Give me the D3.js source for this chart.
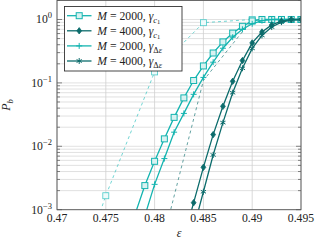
<!DOCTYPE html>
<html>
<head>
<meta charset="utf-8">
<script src="https://cdn.jsdelivr.net/npm/d3@7"></script>
<style>
  body { margin: 0; background: #fff; }
</style>
</head>
<body>
<div id="chart"></div>
<script>
// M = 2000, gamma_c1
var epsA = [0.478, 0.479, 0.480, 0.481, 0.482, 0.483, 0.484, 0.485, 0.486, 0.487, 0.488, 0.489, 0.490, 0.491, 0.492, 0.493, 0.494, 0.495];
var pbA  = [8.5e-4, 2.4e-3, 5.8e-3, 1.31e-2, 2.86e-2, 5.8e-2, 0.109, 0.185, 0.296, 0.443, 0.61, 0.78, 0.95, 1, 1, 1, 1, 1];
// M = 4000, gamma_c1
var epsB = [0.483, 0.484, 0.485, 0.486, 0.487, 0.488, 0.489, 0.490, 0.491, 0.492, 0.493, 0.494, 0.495];
var pbB  = [3.6e-4, 1.29e-3, 4.66e-3, 1.53e-2, 4.27e-2, 0.106, 0.225, 0.427, 0.635, 0.82, 0.94, 1, 1];
// M = 2000, gamma_delta_eps
var epsC = [0.479, 0.480, 0.481, 0.482, 0.483, 0.484, 0.485, 0.486, 0.487, 0.488, 0.489, 0.490, 0.491, 0.492, 0.493, 0.494, 0.495];
var pbC  = [8e-4, 2.51e-3, 6.4e-3, 1.67e-2, 3.3e-2, 6.6e-2, 0.122, 0.212, 0.352, 0.525, 0.70, 0.855, 0.96, 1, 1, 1, 1];
// M = 4000, gamma_delta_eps
var epsD = [0.484, 0.485, 0.486, 0.487, 0.488, 0.489, 0.490, 0.491, 0.492, 0.493, 0.494, 0.495];
var pbD  = [5.1e-4, 1.92e-3, 7.3e-3, 2.36e-2, 7e-2, 0.17, 0.35, 0.56, 0.76, 0.91, 0.98, 1];
// dashed curves (no legend entry)
var epsE = [0.470, 0.475, 0.480, 0.485, 0.490, 0.495];
var pbE  = [1e-5, 1.66e-3, 0.149, 0.89, 1, 1];
var epsF = [0.480, 0.485, 0.490, 0.495];
var pbF  = [1e-4, 0.109, 1, 1];

var xTicks = [0.47, 0.475, 0.48, 0.485, 0.49, 0.495];
var xTickLabels = ["0.47", "0.475", "0.48", "0.485", "0.49", "0.495"];
var yTickExps = [-3, -2, -1, 0];

var light = "#14b4b0", dark = "#0c6c6c";
var serif = "Liberation Serif";

var W = 318, H = 243;
var margin = {top: 0.4, left: 57, right: 17, bottom: 33.3};
var width = W - margin.left - margin.right,
    height = H - margin.top - margin.bottom;

var x = d3.scaleLinear().domain([0.47, 0.495]).range([0, width]);
var y = d3.scaleLog().domain([1e-3, 2]).range([height, 0]);

var svg = d3.select("#chart").append("svg")
    .attr("width", W).attr("height", H)
    .attr("font-family", serif);

svg.append("defs").append("clipPath").attr("id", "clip")
  .append("rect").attr("width", width).attr("height", height);

var g = svg.append("g")
    .attr("transform", "translate(" + margin.left + "," + margin.top + ")");

// minor + major y grid
var minor = [];
for (var e = -3; e <= 0; e++) {
  for (var k = 1; k <= 9; k++) {
    var v = k * Math.pow(10, e);
    if (v <= 2) minor.push(v);
  }
}
function isMajor(d) { return Math.abs(Math.log10(d) - Math.round(Math.log10(d))) < 1e-9; }

g.selectAll(".ygrid").data(minor).enter().append("line")
    .attr("x1", 0).attr("x2", width)
    .attr("y1", function(d) { return y(d); }).attr("y2", function(d) { return y(d); })
    .attr("stroke", "#d4d4d4").attr("stroke-width", 0.7);
g.selectAll(".xgrid").data(xTicks).enter().append("line")
    .attr("x1", function(d) { return x(d); }).attr("x2", function(d) { return x(d); })
    .attr("y1", 0).attr("y2", height)
    .attr("stroke", "#cfcfcf").attr("stroke-width", 0.8);

// tick marks inside the frame
g.selectAll(".ytick").data(minor).enter().append("line")
    .attr("x1", 0).attr("x2", function(d) { return isMajor(d) ? 5 : 3; })
    .attr("y1", function(d) { return y(d); }).attr("y2", function(d) { return y(d); })
    .attr("stroke", "#555").attr("stroke-width", 0.7);
g.selectAll(".ytickr").data(minor).enter().append("line")
    .attr("x1", width).attr("x2", function(d) { return width - (isMajor(d) ? 5 : 3); })
    .attr("y1", function(d) { return y(d); }).attr("y2", function(d) { return y(d); })
    .attr("stroke", "#555").attr("stroke-width", 0.7);

var line = d3.line()
    .x(function(d) { return x(d[0]); })
    .y(function(d) { return y(d[1]); });

function zip(a, b) { return a.map(function(v, i) { return [v, b[i]]; }); }

var plot = g.append("g").attr("clip-path", "url(#clip)");

function marker(sel, type, color) {
  if (type === "square") {
    sel.append("rect").attr("x", -3).attr("y", -3).attr("width", 6).attr("height", 6)
      .attr("fill", "#d8f2f1").attr("stroke", color).attr("stroke-width", 1);
  } else if (type === "diamond") {
    sel.append("path").attr("d", "M0,-3.2L2.4,0L0,3.2L-2.4,0Z")
      .attr("fill", color).attr("stroke", color).attr("stroke-width", 0.8);
  } else if (type === "plus") {
    sel.append("path").attr("d", "M-3,0H3M0,-3V3")
      .attr("stroke", color).attr("stroke-width", 1);
  } else if (type === "star") {
    sel.append("path").attr("d", "M0,-3V3M-2.6,-1.5L2.6,1.5M-2.6,1.5L2.6,-1.5")
      .attr("stroke", color).attr("stroke-width", 1);
  } else if (type === "osquare") {
    sel.append("rect").attr("x", -3).attr("y", -3).attr("width", 6).attr("height", 6)
      .attr("fill", "#eefafa").attr("stroke", color).attr("stroke-width", 0.8);
  }
}

var series = [
  {xs: epsE, ys: pbE, color: "#4ccac8", width: 0.8, dash: "3,3", mark: "osquare"},
  {xs: epsF, ys: pbF, color: "#3c8a8a", width: 0.8, dash: "3,3", mark: null},
  {xs: epsA, ys: pbA, color: light, width: 1.3, dash: null, mark: "square"},
  {xs: epsC, ys: pbC, color: light, width: 1.3, dash: null, mark: "plus"},
  {xs: epsB, ys: pbB, color: dark, width: 1.3, dash: null, mark: "diamond"},
  {xs: epsD, ys: pbD, color: dark, width: 1.3, dash: null, mark: "star"}
];

series.forEach(function(s) {
  var data = zip(s.xs, s.ys);
  plot.append("path").datum(data)
    .attr("d", line).attr("fill", "none")
    .attr("stroke", s.color).attr("stroke-width", s.width)
    .attr("stroke-dasharray", s.dash);
  if (s.mark) {
    plot.selectAll(null).data(data).enter().append("g")
      .attr("transform", function(d) { return "translate(" + x(d[0]) + "," + y(d[1]) + ")"; })
      .each(function() { marker(d3.select(this), s.mark, s.color); });
  }
});

// frame
g.append("rect").attr("width", width).attr("height", height)
  .attr("fill", "none").attr("stroke", "#555").attr("stroke-width", 0.9);

// x tick labels
g.selectAll(".xl").data(xTicks).enter().append("text")
  .attr("x", function(d) { return x(d); }).attr("y", height + 12)
  .attr("text-anchor", "middle").attr("fill", "#222").attr("font-size", 11.7)
  .text(function(d, i) { return xTickLabels[i]; });

// y tick labels 10^k
yTickExps.forEach(function(k) {
  var t = g.append("text")
    .attr("x", -5).attr("y", y(Math.pow(10, k)) + 4)
    .attr("text-anchor", "end").attr("fill", "#222").attr("font-size", 11.7);
  t.append("tspan").text("10");
  t.append("tspan").attr("dy", -5).attr("font-size", 8.5)
    .text(k < 0 ? "\u2212" + (-k) : String(k));
});

// axis labels
g.append("text").attr("x", width / 2).attr("y", height + 27)
  .attr("text-anchor", "middle").attr("fill", "#222").attr("font-size", 12).attr("font-style", "italic")
  .text("\u03b5");
var yl = g.append("text")
  .attr("transform", "translate(" + (-47) + "," + (height / 2) + ") rotate(-90)")
  .attr("text-anchor", "middle").attr("fill", "#222").attr("font-size", 12);
yl.append("tspan").attr("font-style", "italic").text("P");
yl.append("tspan").attr("dy", 3).attr("font-size", 8.5).attr("font-style", "italic").text("b");

// legend
var legend = [
  {M: "2000", sub: "c", mark: "square", color: light},
  {M: "4000", sub: "c", mark: "diamond", color: dark},
  {M: "2000", sub: "d", mark: "plus", color: light},
  {M: "4000", sub: "d", mark: "star", color: dark}
];
var lg = svg.append("g").attr("transform", "translate(64.5,6.5)");
lg.append("rect").attr("width", 117.5).attr("height", 64.5)
  .attr("fill", "#fff").attr("stroke", "#333").attr("stroke-width", 0.9);
legend.forEach(function(d, i) {
  var row = lg.append("g").attr("transform", "translate(0," + (9.2 + i * 15.1) + ")");
  row.append("line").attr("x1", 2.5).attr("x2", 27).attr("stroke", d.color).attr("stroke-width", 1.3);
  marker(row.append("g").attr("transform", "translate(14.7,0)"), d.mark, d.color);
  var t = row.append("text").attr("x", 32.8).attr("y", 4).attr("fill", "#222").attr("font-size", 11.7);
  t.append("tspan").attr("font-style", "italic").text("M");
  t.append("tspan").text(" = " + d.M + ", ");
  t.append("tspan").attr("font-style", "italic").text("\u03b3");
  if (d.sub === "c") {
    t.append("tspan").attr("dy", 3).attr("font-size", 8.5).attr("font-style", "italic").text("c");
    t.append("tspan").attr("dy", 1.5).attr("font-size", 6.5).text("1");
  } else {
    t.append("tspan").attr("dy", 3).attr("font-size", 8.5).text("\u0394");
    t.append("tspan").attr("font-size", 8.5).attr("font-style", "italic").text("\u03b5");
  }
});
</script>
</body>
</html>
